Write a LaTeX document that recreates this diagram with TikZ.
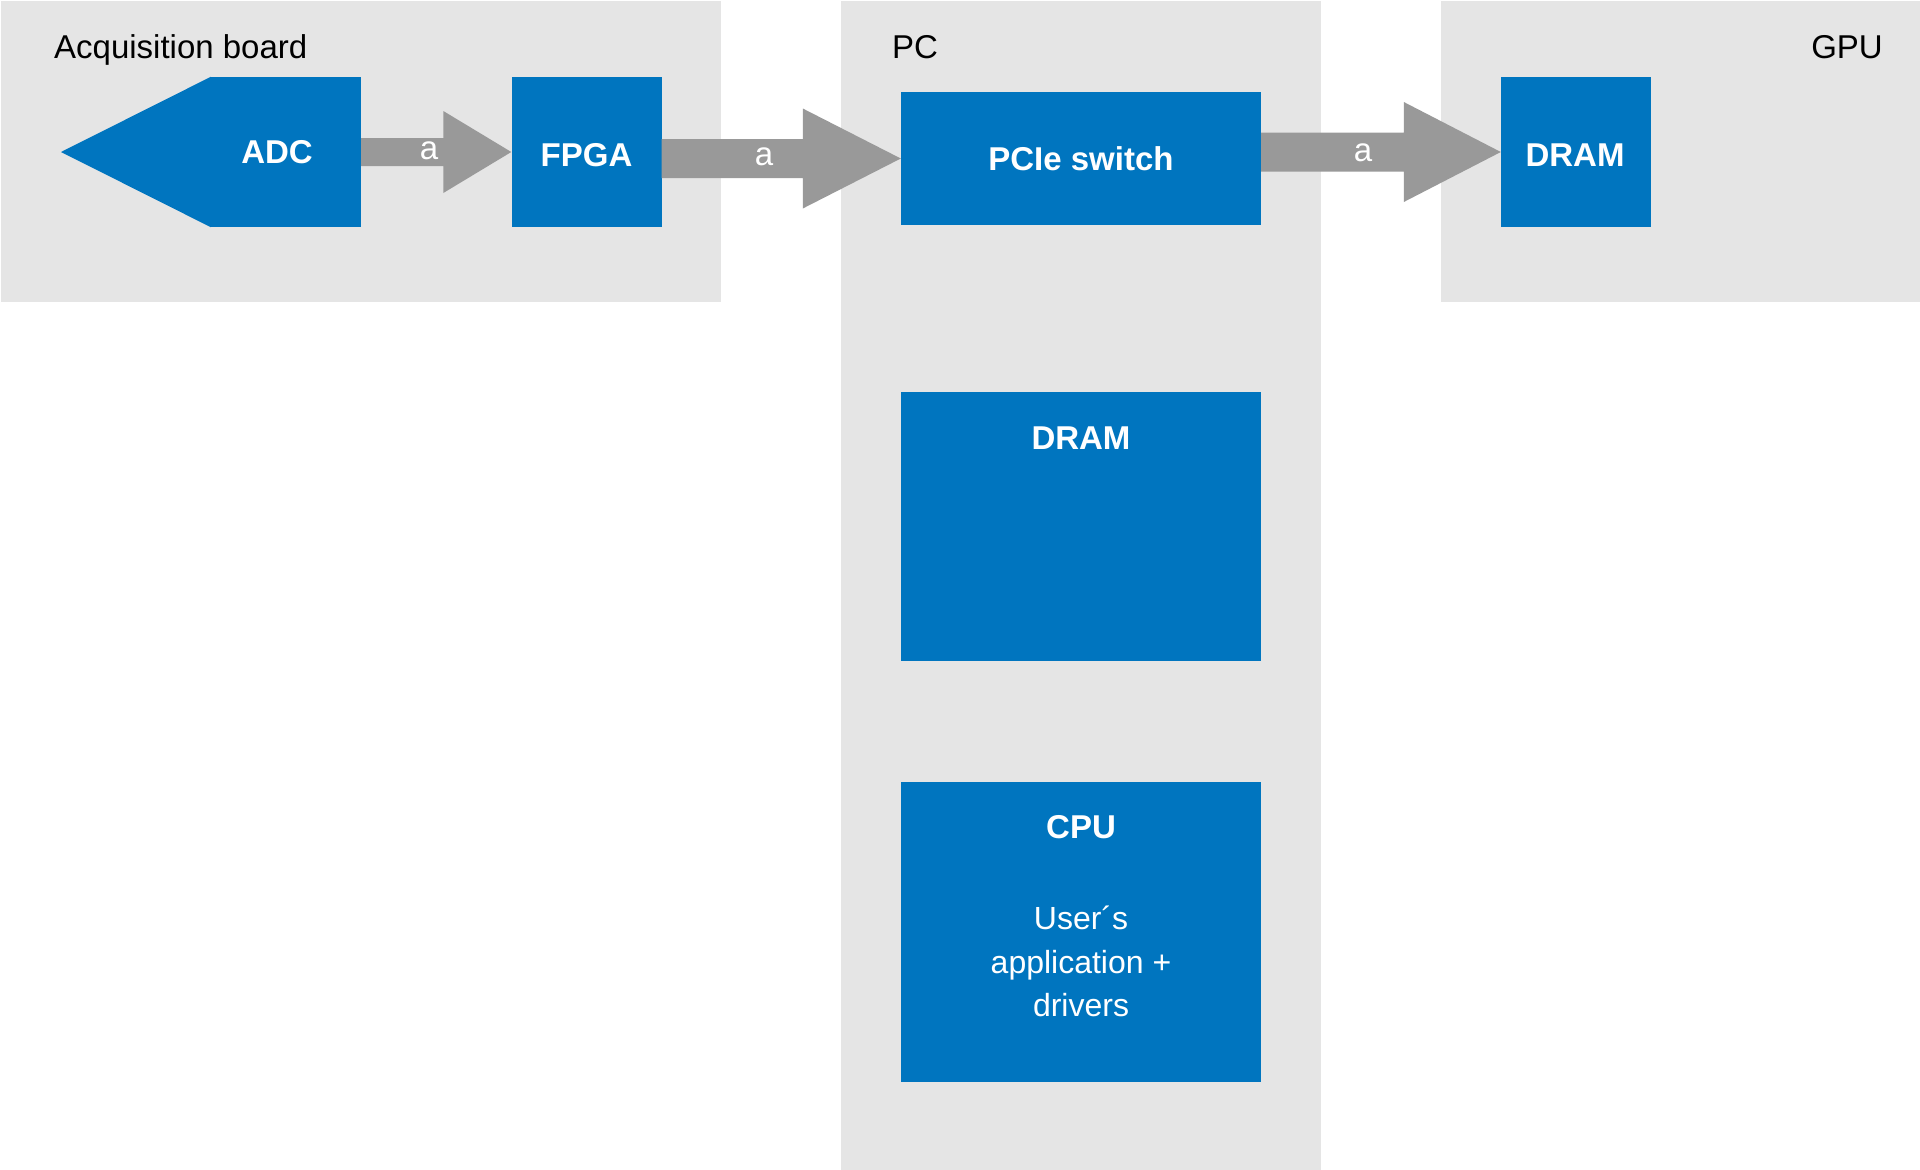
\documentclass[tikz,border=0pt]{standalone}
\usepackage{fontspec}
\setmainfont{Liberation Sans}
\usetikzlibrary{calc}
\definecolor{blueb}{RGB}{0,117,191}
\definecolor{panelg}{RGB}{229,229,229}
\definecolor{arrowg}{RGB}{153,153,153}
\tikzset{
  panel/.style={fill=panelg, draw=none},
  bluebox/.style={fill=blueb, draw=none, inner sep=0pt, text=white, font=\fontsize{33}{40}\selectfont\bfseries},
  paneltitle/.style={inner sep=0pt, text=black, font=\fontsize{33}{40}\selectfont},
  boxtitle/.style={inner sep=0pt, text=white, font=\fontsize{33}{40}\selectfont\bfseries},
  boxtext/.style={inner sep=0pt, text=white, align=center, font=\fontsize{32}{43.5}\selectfont},
  alab/.style={inner sep=0pt, text=white, font=\fontsize{33}{40}\selectfont},
  fatarrow/.style={fill=arrowg, draw=none}
}
\newcommand{\fatarr}[5]{%
  \fill[fatarrow] ($(#1.east |- #2.west)+(0,-#3)$) -- ($(#2.west)+(-#5,-#3)$) -- ($(#2.west)+(-#5,-#4)$) -- (#2.west) -- ($(#2.west)+(-#5,#4)$) -- ($(#2.west)+(-#5,#3)$) -- ($(#1.east |- #2.west)+(0,#3)$) -- cycle;}
\begin{document}
\begin{tikzpicture}[x=1pt,y=-1pt]
\useasboundingbox (0,0) rectangle (1920,1170);
\fill[white] (0,0) rectangle (1920,1170);
% panels
\fill[panel] (1,1) rectangle (721,302);
\fill[panel] (841,1) rectangle (1321,1170);
\fill[panel] (1441,1) rectangle (1920,302);
\node[paneltitle, anchor=base west] (tacq) at (54,58) {Acquisition board};
\node[paneltitle, anchor=base west] (tpc) at (892,58) {PC};
\node[paneltitle, anchor=base east] (tgpu) at (1883,58) {GPU};
% boxes
\node[bluebox, minimum width=150, minimum height=150] (adc) at (286,152) {};
\coordinate (adctip) at (61,152);
\fill[blueb] (adc.north west) -- (adctip) -- (adc.south west) -- cycle;
\node[boxtitle] (adct) at (277,152) {ADC};
\node[bluebox, minimum width=150, minimum height=150] (fpga) at (586.5,152) {};
\node[boxtitle] (fpgat) at (586.5,155) {FPGA};
\node[bluebox, minimum width=360, minimum height=133] (pcie) at (1081,158.5) {PCIe switch};
\node[bluebox, minimum width=150, minimum height=150] (gdram) at (1576,152) {};
\node[boxtitle] (gdramt) at (1575,155) {DRAM};
\node[bluebox, minimum width=360, minimum height=269] (pdram) at (1081,526.5) {};
\node[boxtitle, anchor=base] (pdramt) at (1081,449) {DRAM};
\node[bluebox, minimum width=360, minimum height=300] (cpu) at (1081,931.5) {};
\node[boxtitle, anchor=base] (cput) at (1081,838) {CPU};
\node[boxtext, anchor=north] (cputx) at (1081,906) {User\char"00B4 s\\application +\\drivers};
% fat arrows
\fatarr{adc}{fpga}{14}{41}{68}
\fatarr{fpga}{pcie}{19.5}{50}{98}
\fatarr{pcie}{gdram}{19.5}{50}{97}
\node[alab] (la1) at (429,151) {a};
\node[alab] (la2) at (764,157) {a};
\node[alab] (la3) at (1363,153) {a};
\end{tikzpicture}
\end{document}
